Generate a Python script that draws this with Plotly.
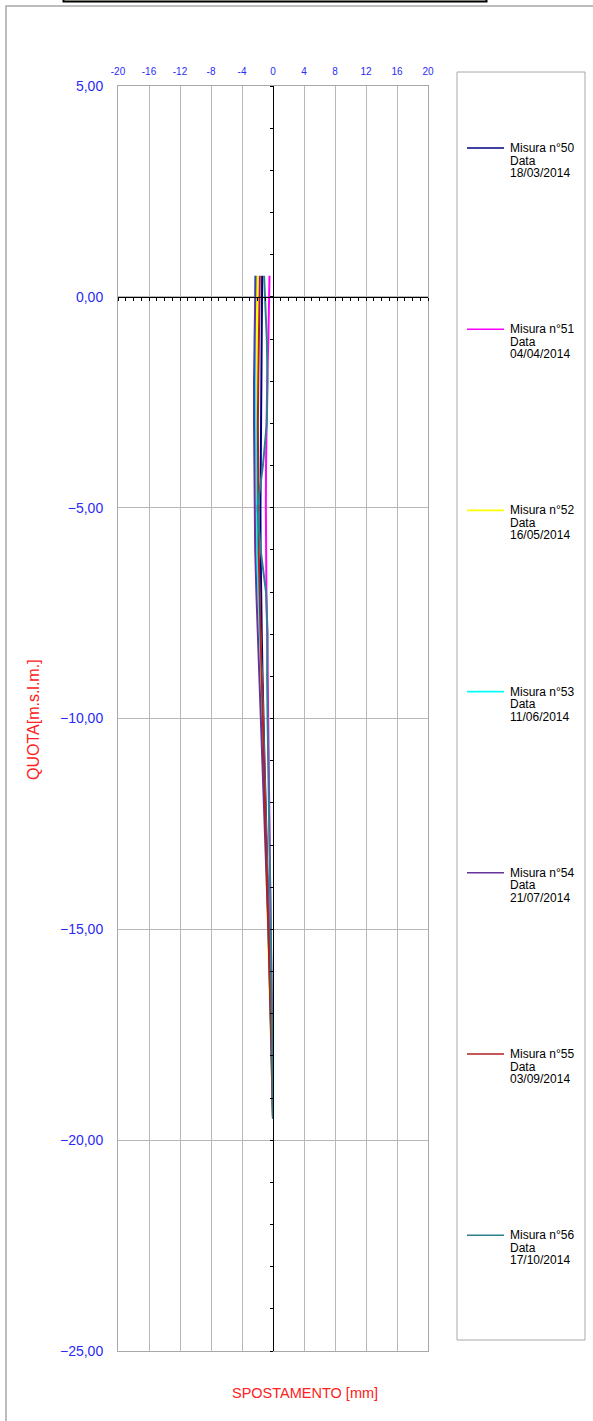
import plotly.graph_objects as go

# ---------------- data ----------------
quota = [0.5, 0, -1, -2, -3, -4, -5, -6, -7, -8, -9, -10, -11, -12, -13, -14,
         -15, -16, -17, -18, -19, -19.5]

mis50 = [-1.40, -1.42, -1.50, -1.55, -1.58, -1.60, -1.62, -1.60, -1.55, -1.45, -1.35,
         -1.25, -1.10, -0.95, -0.80, -0.65, -0.50, -0.38, -0.25, -0.15, -0.05, 0.0]
mis51 = [-0.45, -0.48, -0.60, -0.75, -0.85, -0.90, -0.92, -0.90, -0.85, -0.75, -0.68,
         -0.60, -0.52, -0.45, -0.38, -0.30, -0.22, -0.15, -0.10, -0.05, -0.02, 0.0]
mis52 = [-2.05, -2.05, -2.10, -2.15, -2.20, -2.15, -2.05, -1.95, -1.80, -1.65, -1.50,
         -1.35, -1.20, -1.05, -0.90, -0.75, -0.60, -0.45, -0.30, -0.18, -0.06, 0.0]
mis53 = [-2.30, -2.32, -2.35, -2.30, -2.25, -2.20, -2.15, -2.05, -1.90, -1.65, -1.45,
         -1.30, -1.15, -1.00, -0.85, -0.70, -0.55, -0.42, -0.30, -0.20, -0.08, 0.0]
mis54 = [-2.25, -2.30, -2.40, -2.45, -2.45, -2.40, -2.35, -2.30, -2.15, -1.95, -1.75,
         -1.55, -1.35, -1.15, -0.95, -0.78, -0.60, -0.45, -0.30, -0.18, -0.06, 0.0]
mis55 = [-1.70, -1.75, -1.85, -1.90, -1.95, -1.95, -1.90, -1.85, -1.75, -1.60, -1.45,
         -1.30, -1.15, -1.00, -0.85, -0.70, -0.55, -0.40, -0.28, -0.16, -0.05, 0.0]
mis56 = [-1.15, -1.05, -0.80, -0.70, -0.80, -1.30, -2.00, -1.60, -0.90, -0.70, -0.75,
         -0.70, -0.60, -0.50, -0.42, -0.35, -0.28, -0.20, -0.14, -0.08, -0.03, 0.0]

series_values = [mis50, mis51, mis52, mis53, mis54, mis55, mis56]
series_names = ["Misura n°50", "Misura n°51", "Misura n°52", "Misura n°53",
                "Misura n°54", "Misura n°55", "Misura n°56"]
series_dates = ["18/03/2014", "04/04/2014", "16/05/2014", "11/06/2014",
                "21/07/2014", "03/09/2014", "17/10/2014"]
series_colors = ["#000080", "#FF00FF", "#FFFF00", "#00FFFF",
                 "#663399", "#B22222", "#2F7F8F"]

x_ticks = [-20, -16, -12, -8, -4, 0, 4, 8, 12, 16, 20]
y_ticks = [5, 0, -5, -10, -15, -20, -25]

# ---------------- layout geometry ----------------
W, H = 593, 1421
L, R, T, B = 118, 428, 86, 1351


def px(x):
    return (x - L) / (R - L)


def py(y):
    return (B - y) / (B - T)


FONT = "Arial, Liberation Sans, sans-serif"
BLUE = "#2B2BF5"
RED = "#FF2020"

fig = go.Figure()
for vals, name, col in zip(series_values, series_names, series_colors):
    fig.add_trace(go.Scatter(x=vals, y=quota, mode="lines", name=name,
                             line=dict(color=col, width=2), showlegend=False))

# helper trace for the cross axes through zero
fig.add_trace(go.Scatter(x=[None], y=[None], xaxis="x2", yaxis="y2",
                         showlegend=False, hoverinfo="skip"))

shapes = []
annotations = []

# outer frame
shapes.append(dict(type="rect", xref="paper", yref="paper",
                   x0=px(6), x1=px(620), y0=py(1440), y1=py(6),
                   line=dict(color="#A8A8A8", width=1.5), layer="below"))
# title box (cut off at top)
shapes.append(dict(type="rect", xref="paper", yref="paper",
                   x0=px(63.5), x1=px(486.5), y0=py(1.5), y1=py(-30),
                   line=dict(color="black", width=2), fillcolor="#FFFDE8"))
# legend box
shapes.append(dict(type="rect", xref="paper", yref="paper",
                   x0=px(457), x1=px(585), y0=py(1340), y1=py(72),
                   line=dict(color="#A8A8A8", width=1)))

for i, (name, date, col) in enumerate(zip(series_names, series_dates, series_colors)):
    yc = 148 + 181.2 * i
    shapes.append(dict(type="line", xref="paper", yref="paper",
                       x0=px(467), x1=px(504), y0=py(yc), y1=py(yc),
                       line=dict(color=col, width=1.6)))
    for j, txt in enumerate([name, "Data", date]):
        annotations.append(dict(text=txt, xref="paper", yref="paper",
                                x=px(508), y=py(yc + 12.5 * j),
                                xanchor="left", yanchor="middle", showarrow=False,
                                font=dict(family=FONT, size=12, color="black")))

annotations.append(dict(text="SPOSTAMENTO [mm]", xref="paper", yref="paper",
                        x=px(305), y=py(1393), xanchor="center", yanchor="middle",
                        showarrow=False, font=dict(family=FONT, size=14.5, color=RED)))
annotations.append(dict(text="QUOTA[m.s.l.m.]", xref="paper", yref="paper",
                        x=px(33), y=py(720), xanchor="center", yanchor="middle",
                        textangle=-90, showarrow=False,
                        font=dict(family=FONT, size=16, color=RED)))

fig.update_layout(
    width=W, height=H,
    margin=dict(l=L, r=W - R, t=T, b=H - B),
    paper_bgcolor="white", plot_bgcolor="white",
    separators=",.",
    showlegend=False,
    shapes=shapes,
    annotations=annotations,
    xaxis=dict(range=[-20, 20], side="top", tickmode="array", tickvals=x_ticks,
               ticktext=[str(v) for v in x_ticks],
               tickfont=dict(family=FONT, size=10, color=BLUE),
               showgrid=True, gridcolor="#B8B8B8", gridwidth=1,
               zeroline=False, showline=True, linecolor="#A8A8A8", mirror=True,
               ticks="", ticklabelstandoff=6, fixedrange=True),
    yaxis=dict(range=[-25, 5], tickmode="array", tickvals=y_ticks,
               tickformat=".2f",
               tickfont=dict(family=FONT, size=14, color=BLUE),
               showgrid=True, gridcolor="#B8B8B8", gridwidth=1,
               zeroline=False, showline=True, linecolor="#A8A8A8", mirror=True,
               ticks="", ticklabelstandoff=11, fixedrange=True),
    xaxis2=dict(range=[-20, 20], overlaying="x", anchor="free", position=25 / 30,
                side="bottom", showline=True, linecolor="black", linewidth=1,
                ticks="outside", tickmode="linear", tick0=0, dtick=1, ticklen=3,
                tickcolor="black", showticklabels=False, showgrid=False,
                zeroline=False, fixedrange=True),
    yaxis2=dict(range=[-25, 5], overlaying="y", anchor="free", position=0.5,
                side="left", showline=True, linecolor="black", linewidth=1,
                ticks="outside", tickmode="linear", tick0=0, dtick=1, ticklen=3,
                tickcolor="black", showticklabels=False, showgrid=False,
                zeroline=False, fixedrange=True),
)

fig.write_html("out.html", config={"displayModeBar": False},
               post_script="document.body.style.margin='0';")
